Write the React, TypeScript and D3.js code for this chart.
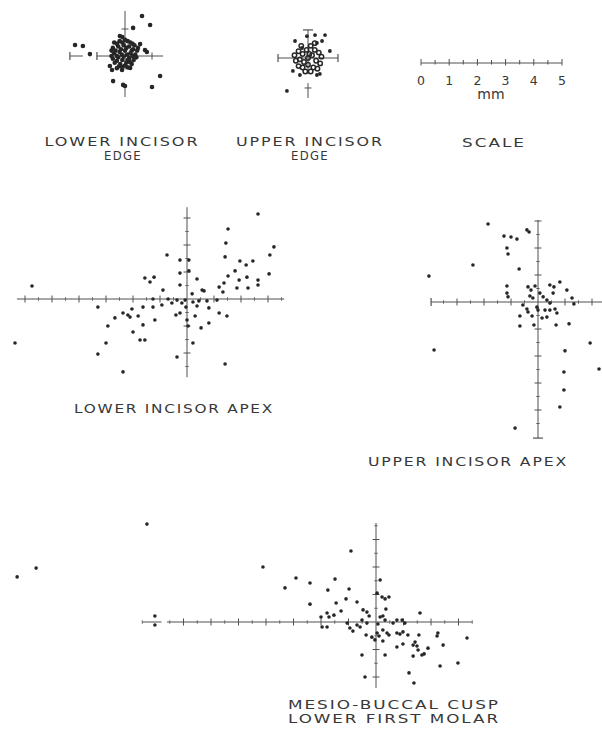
import React from "react";
import * as d3 from "d3";

// ---------- DATA (millimetres, x to the right, y upwards) ----------
const lowerIncisorEdge: [number, number][] = [
  [0.63, 1.48], [0.93, 1.15], [0.3, 1.04], [-0.19, 0.74], [-1.85, 0.41], [-1.56, 0.37], [-1.3, 0.07],
  [0.56, 0.44], [0.48, 0.3], [0.74, 0.22], [0.81, 0.15], [-0.56, -0.37], [-0.48, -0.52], [-0.11, -0.52],
  [0.19, -0.44], [-0.44, -0.93], [-0.07, -1.07], [0, -1.11], [1.0, -1.15], [1.3, -0.74],
  [-0.4, 0.5], [-0.2, 0.55], [0, 0.6], [0.2, 0.5], [0.35, 0.4],
  [-0.45, 0.3], [-0.25, 0.35], [-0.05, 0.4], [0.15, 0.35], [0.3, 0.25],
  [-0.4, 0.1], [-0.2, 0.15], [0, 0.2], [0.2, 0.1], [0.38, 0.05],
  [-0.45, -0.1], [-0.25, -0.05], [-0.05, -0.02], [0.15, -0.08], [0.32, -0.15],
  [-0.38, -0.25], [-0.18, -0.3], [0.05, -0.25], [0.25, -0.3],
  [-0.3, -0.45], [-0.1, -0.4], [0.1, -0.42], [-0.5, 0.0], [0.45, 0.2], [-0.1, 0.7],
  [-0.3, 0.45], [-0.1, 0.5], [0.1, 0.55], [0.28, 0.45], [-0.35, 0.2], [-0.15, 0.25], [0.05, 0.3],
  [0.25, 0.2], [-0.3, 0.0], [-0.12, 0.05], [0.08, 0.05], [0.28, 0.0], [-0.3, -0.18], [-0.1, -0.15],
  [0.1, -0.15], [-0.22, -0.38], [0.0, -0.35], [0.18, -0.22], [-0.5, 0.2], [0.42, -0.05],
];

const upperIncisorEdgeScattered: [number, number][] = [
  [-0.48, 0.63], [-0.04, 0.81], [0.26, 0.85], [0.63, 0.85], [0.52, 0.63], [0.33, 0.56], [-0.22, 0.37],
  [0.81, 0.26], [-0.56, -0.48], [-0.3, -0.63], [0.33, -0.63], [0.44, -0.59], [-0.78, -1.22],
];
const upperIncisorEdgeCluster: [number, number][] = [
  [-0.5, 0.1], [-0.35, 0.25], [-0.2, 0.15], [-0.05, 0.3], [0.1, 0.45], [0.25, 0.3], [0.4, 0.2],
  [0.5, 0.05], [-0.45, -0.1], [-0.3, -0.05], [-0.15, -0.15], [0, 0], [0.15, 0.1], [0.3, -0.1],
  [0.45, -0.2], [-0.35, -0.3], [-0.2, -0.35], [0, -0.25], [0.2, -0.35], [0.35, -0.4], [-0.1, -0.5],
  [0.1, -0.5], [0.05, 0.15], [-0.25, 0.45], [0.25, 0.55],
];

const lowerIncisorApex: [number, number][] = [
  [2.63, 3.15], [1.52, 2.59], [1.44, 2.07], [3.22, 1.93], [3.07, 1.63], [1.41, 1.56], [-0.74, 1.63],
  [1.96, 1.41], [2.19, 1.26], [2.44, 1.41], [3.04, 0.93], [1.78, 1.04], [1.52, 0.85], [1.37, 0.59],
  [1.93, 0.7], [2.22, 0.81], [2.63, 0.7], [2.63, 0.52], [1.85, 0.41], [2.26, 0.41], [1.19, 0.44],
  [1.33, 0.26], [-0.26, 1.44], [0.07, 1.44], [-0.26, 0.96], [0.07, 1.04], [-0.26, 0.52], [0.37, 0.74],
  [-1.56, 0.78], [-1.22, 0.81], [-1.37, 0.63], [-5.74, 0.48], [-0.89, 0.33], [0.19, 0.19], [0.56, 0.33],
  [0.63, 0.3], [-1.26, 0], [-0.7, 0], [-0.37, -0.04], [-0.07, -0.04], [0.22, -0.11], [0.44, -0.07],
  [0.74, -0.07], [1.11, -0.04], [-3.3, -0.3], [-2.04, -0.37], [-1.63, -0.3], [-1.26, -0.3],
  [-0.93, -0.22], [-0.56, -0.15], [-0.19, -0.15], [-0.04, -0.3], [0.37, -0.26], [0.81, -0.33],
  [-2.37, -0.52], [-2.19, -0.59], [-2.11, -0.67], [-1.81, -0.63], [-2.67, -0.7], [-1.19, -0.78],
  [-0.41, -0.59], [-0.26, -0.52], [0.3, -0.63], [0, -0.78], [1.19, -0.52], [1.48, -0.63],
  [-2.93, -1.0], [-1.63, -0.96], [0.04, -1.0], [0.52, -1.07], [0.81, -0.89], [-2.0, -1.22],
  [-1.74, -1.52], [-1.56, -1.52], [-3.0, -1.63], [0.22, -1.63], [-6.37, -1.63], [-3.3, -2.04],
  [-0.37, -2.15], [1.41, -2.41], [-2.37, -2.7],
];

const upperIncisorApex: [number, number][] = [
  [-1.85, 2.89], [-0.41, 2.67], [-0.33, 2.59], [-1.26, 2.44], [-1.0, 2.41], [-0.78, 2.33], [-1.15, 2.0],
  [-1.11, 1.78], [-2.41, 1.37], [-0.7, 1.22], [-4.04, 0.96], [-1.15, 0.59], [-1.15, 0.33], [-1.11, 0.19],
  [-0.37, 0.56], [-0.26, 0.44], [-0.11, 0.59], [0.44, 0.63], [0.59, 0.56], [0.81, 0.74], [1.07, 0.44],
  [0.07, 0.33], [0.19, 0.19], [-0.3, 0.22], [-0.19, 0.15], [0.56, 0.33], [1.26, 0.15], [1.33, -0.07],
  [0.33, 0.07], [0.44, -0.04], [-0.56, -0.11], [-0.41, -0.26], [-0.37, -0.37], [-0.04, -0.19],
  [0, -0.3], [0.26, -0.3], [0.44, -0.3], [0.63, -0.26], [-0.67, -0.52], [-0.22, -0.52], [0.15, -0.59],
  [0.33, -0.56], [0.7, -0.41], [-0.67, -0.89], [-0.15, -0.85], [0.67, -0.85], [1.15, -0.81],
  [1.93, -1.52], [1.0, -1.81], [-3.85, -1.78], [2.26, -2.48], [0.96, -2.59], [0.96, -3.26],
  [0.81, -3.89], [-0.85, -4.67],
];

const lowerFirstMolar: [number, number][] = [
  [-8.33, 3.56], [-13.05, 1.64], [-12.36, 1.96], [-8.04, 0.22], [-8.04, -0.11], [-4.11, 2.0],
  [-0.91, 2.58], [-2.91, 1.6], [-3.31, 1.24], [-2.4, 1.42], [-1.49, 1.56], [-1.75, 1.16], [-0.98, 1.2],
  [0.15, 1.53], [-2.4, 0.65], [-1.45, 0.69], [-1.09, 0.84], [-0.69, 0.73], [0.04, 1.05], [0.22, 0.91],
  [0.47, 0.91], [0.33, 0.84], [-1.78, 0.33], [-1.71, 0.18], [-1.53, 0.25], [-1.27, 0.4], [-1.78, -0.18],
  [-2.0, 0.18], [-1.96, -0.18], [-0.47, 0.44], [-0.33, 0.36], [-0.25, 0.22], [-0.51, 0.07],
  [-0.33, -0.04], [0.36, 0.47], [0.15, 0.18], [0.25, 0.22], [0.33, 0.07], [0.07, -0.07],
  [-1.05, -0.04], [-0.95, -0.22], [-0.84, -0.33], [-0.69, -0.11], [-0.58, -0.18], [-0.36, -0.47],
  [-0.15, -0.55], [-0.04, -0.65], [0.04, -0.4], [0.11, -0.51], [0.25, -0.29], [0.4, -0.4],
  [0.47, -0.47], [0.62, -0.04], [0.76, 0.07], [0.95, 0.07], [1.05, -0.04], [0.76, -0.4], [0.87, -0.44],
  [0.98, -0.36], [1.16, -0.47], [0.25, -0.69], [0.76, -0.91], [0.98, -0.8], [1.42, -0.73], [1.6, 0.33],
  [1.56, -0.47], [1.35, -0.84], [1.49, -0.87], [1.89, -0.95], [2.22, -0.51], [2.25, -0.4],
  [2.44, -0.84], [1.53, -1.02], [1.35, -1.24], [1.67, -1.2], [1.75, -1.16], [0.33, -1.2],
  [-0.51, -1.2], [2.33, -1.6], [2.98, -1.49], [3.31, -0.58], [1.2, -1.85], [1.38, -2.22], [-0.4, -2.0],
];

const scaleTickLabels = ["0", "1", "2", "3", "4", "5"];
const scaleUnit = "mm";

// ---------- LAYOUT ----------
type Seg = { a: number; b: number; capA?: boolean; capB?: boolean };
type PanelSpec = {
  data: [number, number][];
  rings?: [number, number][];
  r: number;
  cx: number; cy: number; k: number;
  hSegs: Seg[]; vSegs: Seg[];
  hTicks: number[]; vTicks: number[];
  minor: boolean;
};

const INK = "#262626";
const AX = "#505050";
const TXT = "#383838";
const FONT = "DejaVu Sans, Verdana, sans-serif";

function Panel({ spec }: { spec: PanelSpec }) {
  const { cx, cy, k } = spec;
  const x = d3.scaleLinear().domain([0, 1]).range([cx, cx + k]);
  const y = d3.scaleLinear().domain([0, 1]).range([cy, cy - k]);
  const minorH: number[] = [];
  const minorV: number[] = [];
  if (spec.minor) {
    spec.hSegs.forEach((s) => {
      for (let v = Math.ceil(s.a * 2) / 2; v <= s.b; v += 0.5) if (Math.abs(v % 1) === 0.5) minorH.push(v);
    });
    spec.vSegs.forEach((s) => {
      for (let v = Math.ceil(s.a * 2) / 2; v <= s.b; v += 0.5) if (Math.abs(v % 1) === 0.5) minorV.push(v);
    });
  }
  return (
    <g>
      {spec.hSegs.map((s, i) => (
        <g key={"h" + i}>
          <line x1={x(s.a)} x2={x(s.b)} y1={cy} y2={cy} stroke={AX} strokeWidth={1} />
          {s.capA && <line x1={x(s.a)} x2={x(s.a)} y1={cy - 4} y2={cy + 4} stroke={AX} strokeWidth={1.2} />}
          {s.capB && <line x1={x(s.b)} x2={x(s.b)} y1={cy - 4} y2={cy + 4} stroke={AX} strokeWidth={1.2} />}
        </g>
      ))}
      {spec.vSegs.map((s, i) => (
        <g key={"v" + i}>
          <line x1={cx} x2={cx} y1={y(s.a)} y2={y(s.b)} stroke={AX} strokeWidth={1} />
          {s.capA && <line x1={cx - 5} x2={cx + 5} y1={y(s.a)} y2={y(s.a)} stroke={AX} strokeWidth={1.2} />}
          {s.capB && <line x1={cx - 5} x2={cx + 5} y1={y(s.b)} y2={y(s.b)} stroke={AX} strokeWidth={1.2} />}
        </g>
      ))}
      {spec.hTicks.map((t) => (
        <line key={"ht" + t} x1={x(t)} x2={x(t)} y1={cy - 3.5} y2={cy + 3.5} stroke={AX} strokeWidth={1} />
      ))}
      {spec.vTicks.map((t) => (
        <line key={"vt" + t} x1={cx - 3.5} x2={cx + 3.5} y1={y(t)} y2={y(t)} stroke={AX} strokeWidth={1} />
      ))}
      {minorH.map((t) => (
        <line key={"mh" + t} x1={x(t)} x2={x(t)} y1={cy - 1.8} y2={cy + 1.8} stroke={AX} strokeWidth={0.8} />
      ))}
      {minorV.map((t) => (
        <line key={"mv" + t} x1={cx - 1.8} x2={cx + 1.8} y1={y(t)} y2={y(t)} stroke={AX} strokeWidth={0.8} />
      ))}
      {(spec.rings || []).map((d, i) => (
        <circle key={"r" + i} cx={x(d[0])} cy={y(d[1])} r={2.2} fill="none" stroke={INK} strokeWidth={1.5} />
      ))}
      {spec.data.map((d, i) => (
        <circle key={i} cx={x(d[0])} cy={y(d[1])} r={spec.r} fill={INK} />
      ))}
    </g>
  );
}

const panels: PanelSpec[] = [
  {
    data: lowerIncisorEdge, r: 2.3, cx: 125, cy: 56, k: 27,
    hSegs: [{ a: -1.04, b: 1.41, capA: true }, { a: -2.04, b: -1.56, capA: true }],
    vSegs: [{ a: -0.5, b: 1.67 }, { a: -1.52, b: -1.15 }],
    hTicks: [1], vTicks: [1], minor: false,
  },
  {
    data: upperIncisorEdgeScattered, rings: upperIncisorEdgeCluster, r: 1.9, cx: 308, cy: 58, k: 27,
    hSegs: [{ a: -1.11, b: 1.11, capA: true, capB: true }],
    vSegs: [{ a: -0.6, b: 1.04, capB: true }, { a: -1.48, b: -0.93 }],
    hTicks: [], vTicks: [-1.11], minor: false,
  },
  {
    data: lowerIncisorApex, r: 1.8, cx: 187, cy: 299, k: 27,
    hSegs: [{ a: -6.3, b: 3.6 }],
    vSegs: [{ a: -2.9, b: 3.4 }],
    hTicks: [-6, -5, -4, -3, -2, -1, 1, 2, 3], vTicks: [-2, -1, 1, 2, 3], minor: true,
  },
  {
    data: upperIncisorApex, r: 1.8, cx: 538, cy: 302, k: 27,
    hSegs: [{ a: -3.96, b: 2.5, capA: true }],
    vSegs: [{ a: -5.04, b: 3.04, capA: true }],
    hTicks: [-3, -2, -1, 1, 2], vTicks: [-4, -3, -2, -1, 1, 2, 3], minor: true,
  },
  {
    data: lowerFirstMolar, r: 1.8, cx: 376, cy: 622, k: 27.5,
    hSegs: [{ a: -7.6, b: 3.5 }, { a: -8.5, b: -7.8 }],
    vSegs: [{ a: -2.4, b: 3.6 }],
    hTicks: [-7, -6, -5, -4, -3, -2, -1, 1, 2, 3], vTicks: [-2, -1, 1, 2, 3], minor: true,
  },
];

type Label = { text: string; x: number; y: number; w: number; fs: number };
const labels: Label[] = [
  { text: "LOWER INCISOR", x: 122, y: 146, w: 155, fs: 12.5 },
  { text: "EDGE", x: 123, y: 160, w: 38, fs: 13 },
  { text: "UPPER INCISOR", x: 310, y: 146, w: 148, fs: 12.5 },
  { text: "EDGE", x: 310, y: 160, w: 38, fs: 13 },
  { text: "SCALE", x: 494, y: 147, w: 64, fs: 12.5 },
  { text: "LOWER INCISOR APEX", x: 174, y: 413, w: 200, fs: 13 },
  { text: "UPPER INCISOR APEX", x: 468, y: 466, w: 200, fs: 13 },
  { text: "MESIO-BUCCAL CUSP", x: 394, y: 709, w: 212, fs: 13 },
  { text: "LOWER FIRST MOLAR", x: 394, y: 723, w: 212, fs: 13 },
];

function ScaleBar() {
  const x = d3.scaleLinear().domain([0, 5]).range([421, 562]);
  const yb = 63;
  const halves = d3.range(0, 5.01, 0.5);
  return (
    <g>
      <line x1={x(0)} x2={x(5)} y1={yb} y2={yb} stroke={AX} strokeWidth={1} />
      {halves.map((t) => (
        <line key={t} x1={x(t)} x2={x(t)} y1={yb - (t % 1 === 0 ? 4 : 3)} y2={yb + (t % 1 === 0 ? 2.5 : 1.5)} stroke={AX} strokeWidth={1} />
      ))}
      {scaleTickLabels.map((s, i) => (
        <text key={s} x={x(i)} y={85} textAnchor="middle" fontSize={12.5} fill={TXT} fontFamily={FONT}>{s}</text>
      ))}
      <text x={491} y={99} textAnchor="middle" fontSize={14} fill={TXT} fontFamily={FONT}>{scaleUnit}</text>
    </g>
  );
}

export default function App() {
  return (
    <svg width={602} height={731} style={{ position: "absolute", left: 0, top: 0, background: "#fff" }}>
      <rect width={602} height={731} fill="#fff" />
      {panels.map((p, i) => <Panel key={i} spec={p} />)}
      <ScaleBar />
      {labels.map((l, i) => (
        <text key={i} x={l.x} y={l.y} textAnchor="middle" fontSize={l.fs} fill={TXT} letterSpacing={1.5}
          fontFamily={FONT} textLength={l.w} lengthAdjust="spacingAndGlyphs">{l.text}</text>
      ))}
    </svg>
  );
}
